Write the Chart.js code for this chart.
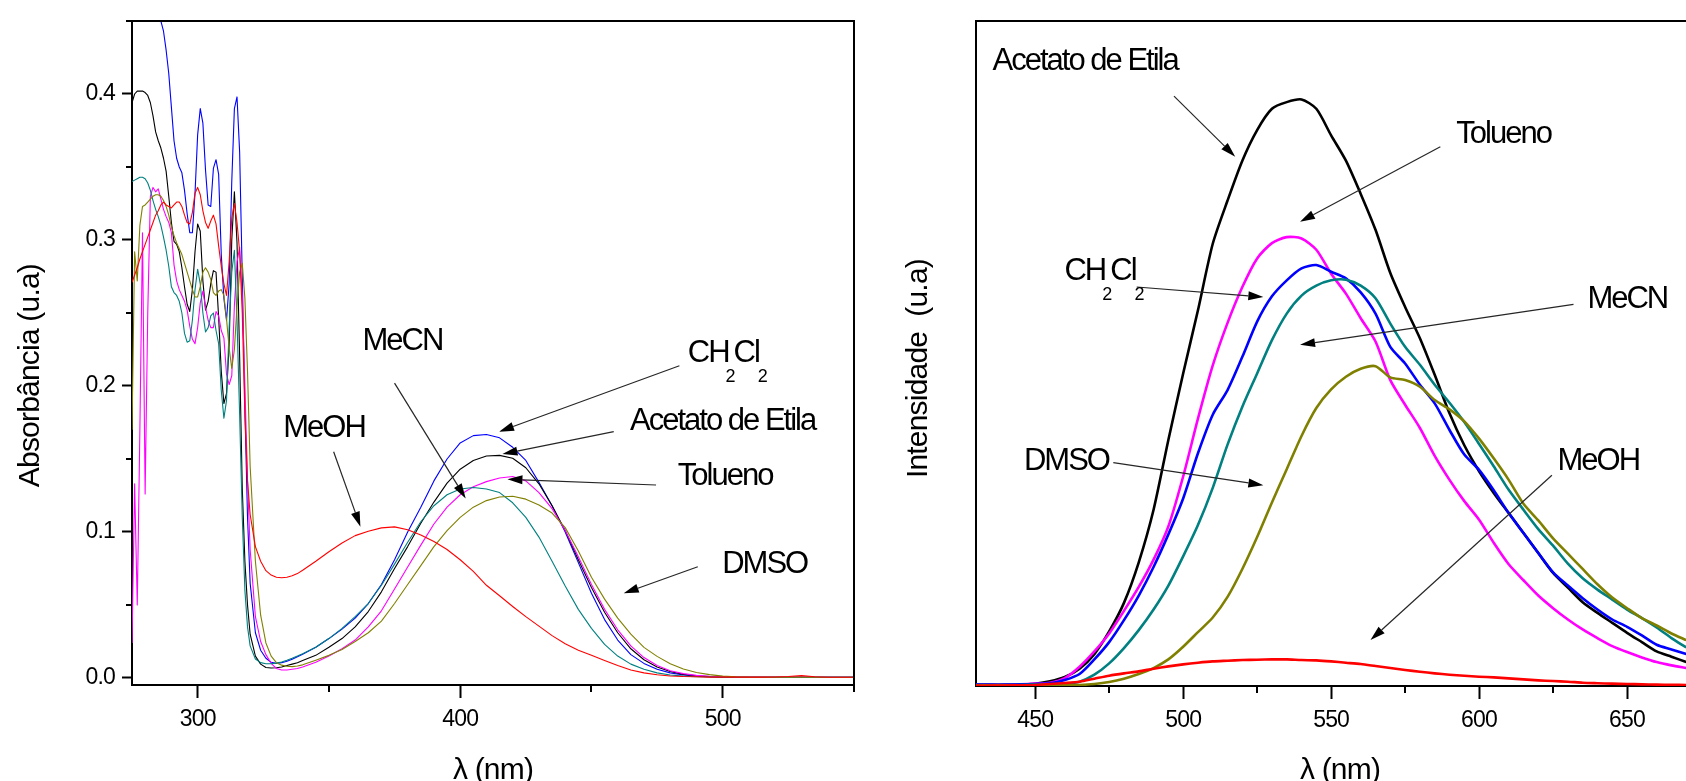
<!DOCTYPE html>
<html><head><meta charset="utf-8">
<script src="https://cdn.jsdelivr.net/npm/chart.js@4.4.0/dist/chart.umd.min.js"></script>
<style>
html,body{margin:0;padding:0;width:1686px;height:781px;overflow:hidden;background:#fff;}
#c1{position:absolute;left:0;top:0;}
#c2{position:absolute;left:880px;top:0;}
</style></head><body>
<canvas id="c1" width="880" height="800" style="width:880px;height:800px"></canvas>
<canvas id="c2" width="850" height="800" style="width:850px;height:800px"></canvas>
<script>
// ---------- Absorption (left) ----------
const absWavelength = [275,276,277,278,279,280,281,282,283,284,285,286,287,288,289,290,291,292,293,294,295,296,297,298,299,300,301,302,303,304,305,306,307,308,309,310,311,312,313,314,315,316,317,318,319,320,
322,324,326,328,330,332,334,336,338,340,
345,350,355,360,365,370,375,380,385,390,395,400,405,410,415,420,425,430,435,440,445,450,455,460,465,470,475,480,485,490,495,500,505,510,515,520,525,530,535,540,545,550];

const absCH2Cl2 = [0.56,0.55,0.54,0.53,0.52,0.51,0.50,0.49,0.48,0.47,0.46,0.45,0.443,0.43,0.414,0.391,0.368,0.356,0.350,0.346,0.334,0.318,0.305,0.305,0.332,0.372,0.390,0.380,0.348,0.324,0.323,0.349,0.355,0.345,0.290,0.260,0.245,0.270,0.340,0.390,0.398,0.360,0.275,0.185,0.110,0.065,
0.031,0.019,0.0135,0.0108,0.0100,0.0105,0.0115,0.0128,0.0145,0.0163,
0.021,0.027,0.0335,0.041,0.051,0.064,0.081,0.100,0.117,0.135,0.150,0.161,0.166,0.1668,0.1645,0.158,0.149,0.134,0.118,0.100,0.079,0.058,0.040,0.026,0.016,0.010,0.006,0.0035,0.002,0.0012,0.0008,0.0006,0.0005,0.0005,0.0005,0.0005,0.0005,0.0005,0.0005,0.0005,0.0005,0.0005];

const absAcetato = [0.394,0.400,0.402,0.402,0.402,0.401,0.399,0.394,0.385,0.374,0.368,0.363,0.356,0.347,0.330,0.312,0.299,0.297,0.292,0.281,0.268,0.256,0.251,0.266,0.292,0.311,0.306,0.272,0.252,0.258,0.270,0.279,0.278,0.247,0.210,0.188,0.195,0.228,0.300,0.333,0.298,0.220,0.130,0.080,0.050,0.030,
0.015,0.0095,0.0072,0.0068,0.0070,0.0075,0.0085,0.0095,0.0105,0.0120,
0.0155,0.021,0.027,0.035,0.0455,0.059,0.075,0.090,0.106,0.1205,0.1335,0.143,0.149,0.152,0.1525,0.1505,0.144,0.133,0.118,0.101,0.081,0.062,0.045,0.031,0.020,0.0125,0.0075,0.0045,0.0025,0.0015,0.001,0.0007,0.0005,0.0005,0.0005,0.0005,0.0005,0.0005,0.0005,0.0005,0.0005,0.0005];

const absTolueno = [0.024,0.133,0.050,0.170,0.305,0.126,0.250,0.330,0.336,0.333,0.335,0.328,0.321,0.316,0.312,0.305,0.283,0.272,0.266,0.262,0.258,0.252,0.241,0.232,0.229,0.240,0.257,0.265,0.254,0.245,0.240,0.240,0.251,0.248,0.238,0.233,0.208,0.201,0.207,0.255,0.285,0.295,0.260,0.200,0.135,0.088,
0.042,0.025,0.016,0.010,0.0065,0.0055,0.0055,0.006,0.0065,0.0075,
0.0108,0.015,0.020,0.026,0.035,0.046,0.061,0.076,0.091,0.1055,0.117,0.1255,0.131,0.1345,0.137,0.138,0.135,0.127,0.116,0.101,0.083,0.064,0.047,0.033,0.022,0.014,0.0085,0.005,0.003,0.0018,0.0012,0.0008,0.0005,0.0005,0.0005,0.0005,0.0005,0.0005,0.0005,0.0005,0.0005,0.0005];

const absMeCN = [0.340,0.341,0.342,0.343,0.343,0.342,0.339,0.334,0.327,0.321,0.316,0.310,0.302,0.293,0.282,0.268,0.264,0.262,0.258,0.250,0.236,0.230,0.231,0.245,0.266,0.280,0.270,0.250,0.237,0.240,0.248,0.250,0.238,0.229,0.197,0.178,0.190,0.240,0.278,0.293,0.245,0.180,0.110,0.060,0.035,0.022,
0.013,0.0105,0.0098,0.0098,0.0102,0.011,0.0122,0.0135,0.015,0.0166,
0.021,0.027,0.034,0.042,0.051,0.0635,0.078,0.093,0.107,0.118,0.1255,0.1295,0.1305,0.1295,0.127,0.120,0.110,0.0965,0.080,0.063,0.047,0.034,0.023,0.015,0.0095,0.006,0.0035,0.002,0.0013,0.0009,0.0007,0.0005,0.0005,0.0005,0.0005,0.0005,0.0005,0.0005,0.0005,0.0005,0.0005,0.0005];

const absDMSO = [0.170,0.292,0.272,0.310,0.323,0.324,0.326,0.328,0.330,0.331,0.331,0.330,0.327,0.323,0.317,0.309,0.303,0.298,0.294,0.290,0.284,0.278,0.272,0.266,0.261,0.261,0.268,0.278,0.281,0.278,0.273,0.264,0.262,0.265,0.266,0.262,0.246,0.226,0.212,0.225,0.255,0.278,0.284,0.260,0.210,0.145,
0.080,0.043,0.024,0.015,0.0105,0.0088,0.008,0.0078,0.0082,0.009,
0.0122,0.0155,0.0195,0.025,0.031,0.039,0.051,0.064,0.077,0.090,0.101,0.110,0.117,0.1215,0.124,0.1245,0.1225,0.1185,0.113,0.103,0.087,0.069,0.054,0.041,0.030,0.021,0.0148,0.0098,0.0062,0.0038,0.0023,0.0013,0.0008,0.0005,0.0005,0.0005,0.0005,0.0005,0.0005,0.0005,0.0005,0.0005];

const absMeOH = [0.271,0.276,0.281,0.287,0.292,0.297,0.302,0.307,0.312,0.317,0.320,0.324,0.326,0.324,0.323,0.322,0.324,0.326,0.326,0.323,0.317,0.312,0.311,0.319,0.332,0.336,0.331,0.320,0.312,0.308,0.313,0.317,0.311,0.296,0.282,0.270,0.262,0.285,0.315,0.325,0.312,0.292,0.250,0.180,0.135,0.112,
0.090,0.080,0.0735,0.0705,0.069,0.0687,0.069,0.070,0.0715,0.0738,
0.080,0.0865,0.0925,0.0975,0.1005,0.1028,0.1035,0.1015,0.098,0.0935,0.088,0.081,0.073,0.0635,0.0563,0.049,0.042,0.0355,0.029,0.0235,0.019,0.0155,0.012,0.0085,0.0055,0.0035,0.0022,0.0014,0.001,0.0008,0.0006,0.0006,0.0006,0.0006,0.0006,0.0007,0.001,0.0016,0.0008,0.0005,0.0005,0.0005];

const absTicksX = [300, 400, 500];
const absMinorX = [350, 450, 550];
const absTicksY = [0, 0.1, 0.2, 0.3, 0.4];
const absMinorY = [0.05, 0.15, 0.25, 0.35, 0.45];

// ---------- Emission (right) ----------
const emWavelength = [430,435,440,445,450,455,460,465,470,475,480,485,490,495,500,505,510,515,520,525,530,535,540,545,550,555,560,565,570,575,580,585,590,595,600,605,610,615,620,625,630,635,640,645,650,655,660,665,670];

const emAcetato = [0.2,0.2,0.2,0.25,0.35,0.7,1.35,2.6,4.8,8.2,12.5,18.6,26.5,37,47,56.5,66.5,73,79,83.6,86.8,87.8,88.2,86.8,82.8,79,74,68.6,62.1,57,52.3,46.8,41,36.2,32.3,29,26,23,20,17,14.8,12.6,11,9.5,8,6.6,5.2,4.4,3.6];
const emTolueno = [0.2,0.2,0.2,0.25,0.35,0.5,1.2,2.9,5.2,7.9,11.3,14.9,19,24,31.5,40.2,48.2,54.6,60,64.3,66.6,67.5,67.3,65.6,62,59,55.3,51.8,46,42.3,38.8,34.6,31,27.8,25,21.5,18.3,15.9,13.6,11.7,10,8.5,7.2,6,5.1,4.3,3.6,3.1,2.7];
const emCH2Cl2 = [0.2,0.2,0.2,0.25,0.3,0.4,0.9,1.8,4.0,6.6,9.9,13.6,17.9,22.8,28.2,35,40.8,44.5,49.5,54.8,58.6,61,62.8,63.3,62.3,61.3,59.2,56,51,48.5,45.3,42.5,38.5,34.8,32.5,29.4,26,23,20,17.1,15.1,13.2,11.5,10,8.9,7.6,6.2,5.5,4.8];
const emMeCN = [0.15,0.15,0.15,0.15,0.2,0.25,0.35,0.65,1.7,3.4,5.7,8.4,11.5,15.1,19.5,24.2,29.8,36.3,42,47,52,56,58.7,60.2,61,61.1,60.2,58.3,54.5,51,48.3,45.3,42.6,39.7,36.4,33,29.5,26.5,23.6,21.1,18.4,16.2,14.5,13,11.5,10.2,8.8,7.2,5.8];
const emDMSO = [0.1,0.1,0.1,0.1,0.1,0.1,0.1,0.15,0.3,0.6,1.1,1.8,2.7,4.0,5.9,8.1,10.3,13.4,17.6,22.4,27.6,32.6,37.6,41.8,44.6,46.5,47.7,48.1,46.4,46,45,43,41.6,39.8,37.2,34.2,31,27.4,24.9,22.2,19.9,17.6,15.3,13.3,11.7,10.2,9.1,7.9,6.9];
const emMeOH = [0.05,0.05,0.08,0.1,0.15,0.3,0.45,0.65,1.1,1.55,1.9,2.2,2.6,2.95,3.25,3.5,3.7,3.8,3.9,3.95,4.0,4.0,3.9,3.85,3.7,3.5,3.3,3.0,2.7,2.4,2.15,1.9,1.7,1.55,1.4,1.3,1.15,1.0,0.85,0.75,0.65,0.5,0.42,0.35,0.3,0.25,0.2,0.18,0.15];

const emTicksX = [450, 500, 550, 600, 650];
const emMinorX = [475, 525, 575, 625, 675];

// ---------- annotations (data coordinates) ----------
const absLabels = [
  {text:'MeCN', x:362.8, y:0.2247},
  {text:'MeOH', x:332.6, y:0.165},
  {formula:['CH','2','Cl','2'], x:486.7, y:0.2166},
  {text:'Acetato de Etila', x:464.7, y:0.1699},
  {text:'Tolueno', x:482.9, y:0.1322},
  {text:'DMSO', x:499.8, y:0.0717}
];
const absArrows = [
  [375, 0.202, 402.1, 0.123],
  [351.8, 0.155, 362, 0.1036],
  [483.5, 0.2139, 414.8, 0.1687],
  [458.5, 0.1687, 416.1, 0.1534],
  [474.6, 0.1322, 418, 0.1361],
  [490.5, 0.0762, 462.3, 0.058]
];
const emLabels = [
  {text:'Acetato de Etila', x:435.6, y:92.6},
  {text:'Tolueno', x:592.3, y:81.6},
  {formula:['CH','2','Cl','2'], x:459.9, y:61.1},
  {text:'MeCN', x:636.6, y:56.8},
  {text:'DMSO', x:446.2, y:32.5},
  {text:'MeOH', x:626.5, y:32.5}
];
const emArrows = [
  [496.9, 88.7, 517.6, 79.6],
  [586.9, 81.1, 539.5, 69.8],
  [484.3, 60, 527.1, 58.5],
  [631.9, 57.4, 539.5, 51.3],
  [476.4, 33.6, 527.1, 30.2],
  [624.6, 31.7, 563.3, 6.9]
];

const COLORS = {MeOH:'#ff0000', CH2Cl2:'#0000ff', Acetato:'#000000', Tolueno:'#ff00ff', MeCN:'#008080', DMSO:'#808000'};
const FONT = "'Liberation Sans', Arial, sans-serif";

function pts(xs, ys){ return xs.map((x,i)=>({x:x, y:ys[i]})); }

const decoPlugin = {
  id: 'deco',
  beforeDraw(chart){ chart.ctx.letterSpacing = '-0.8px'; },
  afterDraw(chart, args, opts){
    const {ctx, chartArea:a, scales:{x, y}} = chart;
    ctx.save();
    ctx.strokeStyle = '#000'; ctx.lineWidth = 2;
    ctx.beginPath();
    ctx.moveTo(a.left, a.top); ctx.lineTo(a.right, a.top); ctx.lineTo(a.right, a.bottom);
    ctx.stroke();
    (opts.minorX||[]).forEach(v=>{
      const px = Math.round(x.getPixelForValue(v));
      ctx.beginPath(); ctx.moveTo(px, a.bottom); ctx.lineTo(px, a.bottom+7); ctx.stroke();
    });
    (opts.minorY||[]).forEach(v=>{
      const py = Math.round(y.getPixelForValue(v));
      ctx.beginPath(); ctx.moveTo(a.left-6, py); ctx.lineTo(a.left, py); ctx.stroke();
    });
    ctx.strokeStyle = '#262626'; ctx.fillStyle = '#000'; ctx.lineWidth = 1.2;
    (opts.arrows||[]).forEach(([x0,y0,x1,y1])=>{
      const X0 = x.getPixelForValue(x0), Y0 = y.getPixelForValue(y0);
      const X1 = x.getPixelForValue(x1), Y1 = y.getPixelForValue(y1);
      const ang = Math.atan2(Y1-Y0, X1-X0);
      const L = 15, W = 4.5;
      const bx = X1 - L*Math.cos(ang), by = Y1 - L*Math.sin(ang);
      ctx.beginPath(); ctx.moveTo(X0, Y0); ctx.lineTo(bx, by); ctx.stroke();
      ctx.beginPath();
      ctx.moveTo(X1, Y1);
      ctx.lineTo(bx + W*Math.sin(ang), by - W*Math.cos(ang));
      ctx.lineTo(bx - W*Math.sin(ang), by + W*Math.cos(ang));
      ctx.closePath(); ctx.fill();
    });
    ctx.fillStyle = '#000'; ctx.textBaseline = 'alphabetic'; ctx.textAlign = 'left';
    ctx.letterSpacing = '-2px';
    (opts.labels||[]).forEach(l=>{
      const X = x.getPixelForValue(l.x), Y = y.getPixelForValue(l.y);
      if (l.text) {
        ctx.font = '31px ' + FONT;
        ctx.fillText(l.text, X, Y);
      } else {
        const [a1, s1, a2, s2] = l.formula;
        ctx.font = '31px ' + FONT;
        const w1 = ctx.measureText(a1).width;
        ctx.fillText(a1, X, Y);
        const xCl = X + w1 + 5;
        const w2 = ctx.measureText(a2).width;
        ctx.fillText(a2, xCl, Y);
        ctx.font = '18px ' + FONT;
        ctx.letterSpacing = '0px';
        ctx.fillText(s1, X + w1 - 3, Y + 20);
        ctx.fillText(s2, xCl + w2 - 1, Y + 20);
        ctx.letterSpacing = '-2px';
      }
    });
    ctx.restore();
  }
};

function makeChart(id, cfg){
  return new Chart(document.getElementById(id), {
    type: 'line',
    data: { datasets: cfg.datasets },
    options: {
      responsive: false, animation: false, events: [],
      layout: { padding: { left: 0, right: 26, top: 21, bottom: 0 } },
      elements: { point: { radius: 0 }, line: { borderJoinStyle: 'round' } },
      plugins: { legend: { display: false }, tooltip: { enabled: false },
        deco: { minorX: cfg.minorX, minorY: cfg.minorY, arrows: cfg.arrows, labels: cfg.labels } },
      scales: {
        x: {
          type: 'linear', min: cfg.xmin, max: cfg.xmax,
          afterFit: s => { s.height = cfg.xh; },
          afterBuildTicks: s => { s.ticks = cfg.ticksX.map(v => ({value: v})); },
          grid: { display: true, drawOnChartArea: false, drawTicks: true, tickLength: 13, tickWidth: 2, tickColor: '#000' },
          border: { display: true, width: 2, color: '#000' },
          ticks: { color: '#000', font: { family: FONT, size: 23 }, padding: 8, maxRotation: 0, autoSkip: false },
          title: { display: true, text: 'λ (nm)', color: '#000', font: { family: FONT, size: 30 }, padding: { top: 0, bottom: 11 } }
        },
        y: {
          type: 'linear', min: cfg.ymin, max: cfg.ymax,
          afterFit: s => { s.width = cfg.yw; },
          afterBuildTicks: s => { s.ticks = cfg.ticksY.map(v => ({value: v})); },
          grid: { display: cfg.ticksY.length > 0, drawOnChartArea: false, drawTicks: true, tickLength: 10, tickWidth: 2, tickColor: '#000' },
          border: { display: true, width: 2, color: '#000' },
          ticks: { display: cfg.ticksY.length > 0, color: '#000', font: { family: FONT, size: 23 }, padding: 7,
                   callback: v => v.toFixed(1) },
          title: { display: true, text: cfg.ytitle, color: '#000', font: { family: FONT, size: 30 }, padding: { top: cfg.ytpad, bottom: 0 } }
        }
      }
    },
    plugins: [decoPlugin]
  });
}

const absSeries = [
  ['MeOH', absMeOH], ['DMSO', absDMSO], ['MeCN', absMeCN], ['Tolueno', absTolueno], ['Acetato', absAcetato], ['CH2Cl2', absCH2Cl2]
];
makeChart('c1', {
  datasets: absSeries.map(([k, v]) => ({ label: k, data: pts(absWavelength, v), borderColor: COLORS[k], borderWidth: 1.1, tension: 0, fill: false })),
  xmin: 275, xmax: 550, ymin: -0.0048, ymax: 0.45, xh: 115, yw: 132,
  ticksX: absTicksX, ticksY: absTicksY, minorX: absMinorX, minorY: absMinorY,
  ytitle: 'Absorbância (u.a)      ', ytpad: 13,
  arrows: absArrows, labels: absLabels
});

const emSeries = [
  ['MeOH', emMeOH], ['DMSO', emDMSO], ['MeCN', emMeCN], ['CH2Cl2', emCH2Cl2], ['Tolueno', emTolueno], ['Acetato', emAcetato]
];
makeChart('c2', {
  datasets: emSeries.map(([k, v]) => ({ label: k, data: pts(emWavelength, v), borderColor: COLORS[k], borderWidth: 2.6, tension: 0.25, fill: false })),
  xmin: 430, xmax: 676, ymin: 0, ymax: 100, xh: 114, yw: 96,
  ticksX: emTicksX, ticksY: [], minorX: emMinorX, minorY: [],
  ytitle: 'Intensidade  (u.a)    ', ytpad: 21,
  arrows: emArrows, labels: emLabels
});
</script></body></html>
